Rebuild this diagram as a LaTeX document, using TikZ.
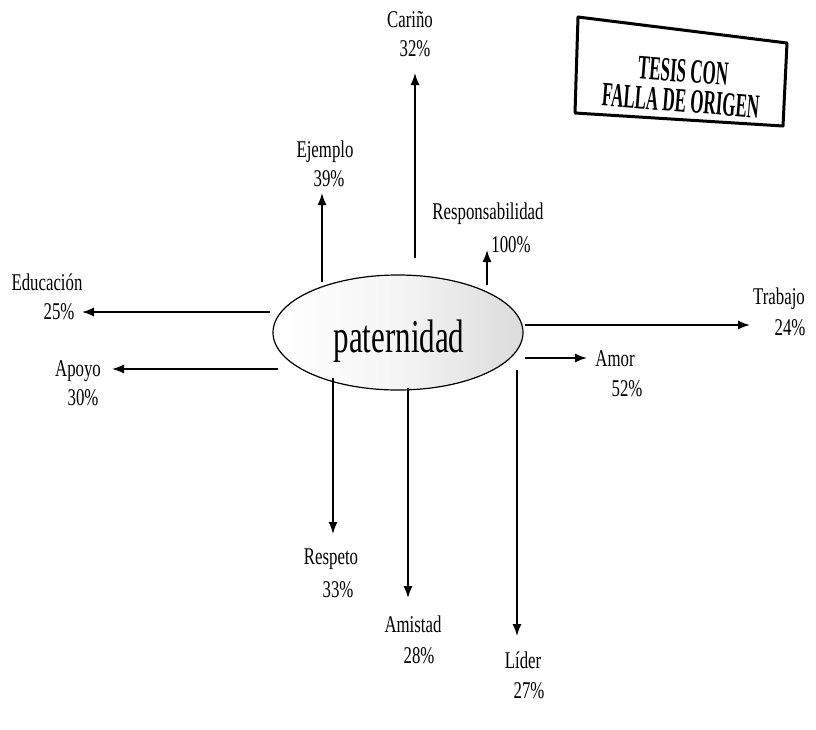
\documentclass[tikz,border=0pt]{standalone}
\usepackage{fontspec}
\setmainfont{Liberation Serif}[FakeStretch=0.7]
\newfontfamily\stampfont{Liberation Serif}[FakeStretch=0.5]
\newfontfamily\bigfont{Liberation Serif}[FakeStretch=0.66]
\usetikzlibrary{arrows.meta,shapes.geometric}
\tikzset{
  lbl/.style={font=\fontsize{24}{24}\selectfont, inner sep=0pt},
  arr/.style={line width=1.5pt, -{Latex[length=12pt,width=9pt]}},
  stamptxt/.style={font=\stampfont\bfseries\fontsize{34}{30}\selectfont, inner sep=0pt, align=center},
}
\begin{document}
\begin{tikzpicture}[x=1pt,y=-1pt]
\useasboundingbox (0,0) rectangle (816,729);
% central ellipse
\node[ellipse, draw, line width=1.2pt, minimum width=250pt, minimum height=115pt,
      left color=white, right color=gray!28, middle color=gray!8] (p) at (398,332.5) {};
\node[font=\bigfont\fontsize{47}{47}\selectfont, inner sep=0pt] (ptext) at (399,341) {paternidad};
% start and tip coordinates
\coordinate (sCar) at (415,258);  \coordinate (tCar) at (415,73);
\coordinate (sEje) at (322,282);  \coordinate (tEje) at (322,193);
\coordinate (sRes) at (487,285);  \coordinate (tRes) at (487,250);
\coordinate (sEdu) at (270,312);  \coordinate (tEdu) at (82,312);
\coordinate (sApo) at (278,369);  \coordinate (tApo) at (112,369);
\coordinate (sTra) at (525,325);  \coordinate (tTra) at (750,325);
\coordinate (sAmo) at (525,358);  \coordinate (tAmo) at (587,358);
\coordinate (sLid) at (517,370);  \coordinate (tLid) at (517,636);
\coordinate (sAmi) at (408,388);  \coordinate (tAmi) at (408,598);
\coordinate (sRsp) at (333,378);  \coordinate (tRsp) at (333,534);
% arrows
\foreach \n in {Car,Eje,Res,Edu,Apo,Tra,Amo,Lid,Ami,Rsp}
  \draw[arr] (s\n) -- (t\n);
% labels
\node[lbl] (lCar) at (410,20) {Cariño};          \node[lbl] (pCar) at (415,49) {32\%};
\node[lbl] (lEje) at (325,152) {Ejemplo};        \node[lbl] (pEje) at (329,179) {39\%};
\node[lbl] (lRes) at (488,214) {Responsabilidad};\node[lbl] (pRes) at (511,245) {100\%};
\node[lbl] (lEdu) at (47,282) {Educación};       \node[lbl] (pEdu) at (59,312) {25\%};
\node[lbl] (lApo) at (78,371) {Apoyo};           \node[lbl] (pApo) at (83,398) {30\%};
\node[lbl] (lTra) at (779,299) {Trabajo};        \node[lbl] (pTra) at (790,328) {24\%};
\node[lbl] (lAmo) at (615,359) {Amor};           \node[lbl] (pAmo) at (627,389) {52\%};
\node[lbl] (lLid) at (523,660) {Líder};          \node[lbl] (pLid) at (529,691) {27\%};
\node[lbl] (lAmi) at (413,624) {Amistad};        \node[lbl] (pAmi) at (419,656) {28\%};
\node[lbl] (lRsp) at (331,559) {Respeto};        \node[lbl] (pRsp) at (338,590) {33\%};
% stamp
\draw[line width=3pt, line join=round] (578,17) -- (787,43) -- (783,126) -- (575,113) -- cycle;
\node[stamptxt, rotate=-4.5] (st) at (682,86) {TESIS CON\\FALLA DE ORIGEN};
\end{tikzpicture}
\end{document}
